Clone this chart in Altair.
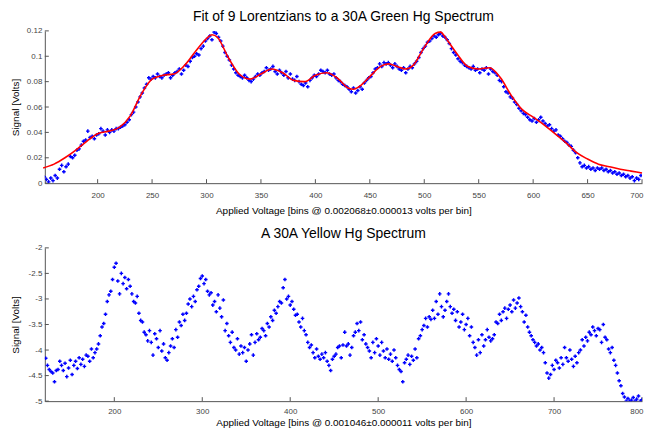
import altair as alt
import pandas as pd

# ---------------- data ----------------
green_first_bin = 151
green_signal = [
    0.005, 0.003, 0.001, 0.004, 0.002, 0.006, 0.004, 0.011, 0.014, 0.009,
    0.013, 0.015, 0.021, 0.020, 0.022, 0.026, 0.027, 0.030, 0.033, 0.034,
    0.041, 0.036, 0.037, 0.035, 0.038, 0.039, 0.043, 0.041, 0.038, 0.042,
    0.040, 0.042, 0.041, 0.043, 0.043, 0.044, 0.045, 0.046, 0.048, 0.050,
    0.054, 0.056, 0.060, 0.064, 0.068, 0.071, 0.075, 0.078, 0.083, 0.082,
    0.084, 0.083, 0.086, 0.084, 0.083, 0.085, 0.086, 0.087, 0.083, 0.085,
    0.087, 0.088, 0.090, 0.086, 0.089, 0.093, 0.092, 0.096, 0.099, 0.100,
    0.102, 0.101, 0.106, 0.108, 0.112, 0.114, 0.116, 0.113, 0.119, 0.118,
    0.115, 0.112, 0.108, 0.103, 0.100, 0.097, 0.093, 0.090, 0.087, 0.085,
    0.084, 0.083, 0.085, 0.083, 0.081, 0.080, 0.082, 0.084, 0.086, 0.085,
    0.087, 0.088, 0.091, 0.089, 0.090, 0.092, 0.088, 0.086, 0.089, 0.087,
    0.085, 0.088, 0.083, 0.086, 0.082, 0.081, 0.084, 0.080, 0.078, 0.077,
    0.079, 0.076, 0.081, 0.083, 0.085, 0.084, 0.086, 0.089, 0.088, 0.087,
    0.089, 0.086, 0.085, 0.086, 0.083, 0.081, 0.080, 0.078, 0.077, 0.076,
    0.074, 0.072, 0.075, 0.071, 0.073, 0.076, 0.074, 0.079, 0.081, 0.083,
    0.084, 0.087, 0.090, 0.091, 0.094, 0.092, 0.095, 0.094, 0.095, 0.093,
    0.091, 0.094, 0.092, 0.090, 0.089, 0.091, 0.087, 0.090, 0.092, 0.091,
    0.094, 0.096, 0.099, 0.103, 0.106, 0.108, 0.111, 0.112, 0.114, 0.116,
    0.115, 0.117, 0.118, 0.116, 0.115, 0.113, 0.110, 0.106, 0.103, 0.101,
    0.098, 0.096, 0.095, 0.093, 0.092, 0.091, 0.090, 0.092, 0.089, 0.090,
    0.087, 0.090, 0.089, 0.091, 0.086, 0.090, 0.088, 0.087, 0.085, 0.081,
    0.080, 0.076, 0.072, 0.071, 0.068, 0.067, 0.064, 0.062, 0.059, 0.057,
    0.055, 0.054, 0.052, 0.050, 0.049, 0.051, 0.048, 0.050, 0.052, 0.049,
    0.047, 0.045, 0.046, 0.043, 0.041, 0.042, 0.038, 0.037, 0.035, 0.033,
    0.032, 0.030, 0.029, 0.026, 0.024, 0.020, 0.016, 0.013, 0.014, 0.012,
    0.013, 0.011, 0.012, 0.010, 0.012, 0.011, 0.012, 0.010, 0.011, 0.009,
    0.010, 0.008, 0.009, 0.007, 0.008, 0.006, 0.007, 0.005, 0.006, 0.004,
    0.005, 0.002, 0.004, 0.003, 0.006,
]

fit_bins = [150, 160, 170, 180, 190, 200, 210, 220, 230, 240, 250, 260, 270,
            280, 290, 300, 305, 310, 320, 330, 340, 350, 360, 370, 380, 390,
            400, 410, 420, 430, 435, 440, 450, 460, 467, 475, 483, 490, 500,
            510, 515, 520, 530, 540, 550, 560, 570, 580, 590, 600, 610, 620,
            630, 640, 650, 660, 670, 680, 690, 700]
fit_signal = [0.012, 0.015, 0.020, 0.026, 0.033, 0.039, 0.041, 0.044, 0.053,
              0.070, 0.082, 0.085, 0.086, 0.093, 0.104, 0.114, 0.117, 0.115,
              0.099, 0.086, 0.082, 0.086, 0.090, 0.087, 0.081, 0.080, 0.085,
              0.087, 0.083, 0.075, 0.074, 0.076, 0.084, 0.092, 0.094, 0.092,
              0.090, 0.093, 0.107, 0.118, 0.119, 0.114, 0.102, 0.092, 0.090,
              0.091, 0.083, 0.069, 0.058, 0.052, 0.046, 0.039, 0.032, 0.024,
              0.019, 0.015, 0.013, 0.011, 0.0095, 0.008]

yellow_first_bin = 122
yellow_signal = [
    -4.16, -4.30, -4.38, -4.42, -4.45, -4.62, -4.40, -4.38, -4.22, -4.30,
    -4.40, -4.26, -4.52, -4.35, -4.20, -4.48, -4.30, -4.22, -4.36, -4.15,
    -4.28, -4.18, -4.32, -4.10, -4.12, -4.22, -3.98, -4.15, -4.05, -3.98,
    -3.88, -3.72, -3.55, -3.48, -3.30, -3.05, -2.92, -2.85, -2.62, -2.38,
    -2.30, -2.65, -2.90, -2.50, -2.70, -2.58, -2.80, -2.62, -2.75, -2.90,
    -3.05, -3.08, -2.95, -3.28, -3.42, -3.45, -3.65, -3.70, -3.82, -3.62,
    -3.85, -4.10, -3.68, -3.78, -3.95, -3.62, -4.02, -3.88, -4.15, -4.20,
    -4.05, -3.92, -3.78, -3.95, -3.60, -3.75, -3.45, -3.52, -3.30, -3.42,
    -3.28, -3.10, -3.00, -3.15, -2.95, -3.05, -2.82, -2.75, -2.60, -2.55,
    -2.70, -2.62, -2.85, -2.92, -2.88, -3.12, -3.05, -3.25, -2.92, -3.18,
    -3.35, -3.02, -3.62, -3.48, -3.72, -3.85, -3.65, -3.95, -4.00, -3.78,
    -4.08, -3.92, -4.05, -3.95, -4.22, -4.00, -3.88, -3.70, -4.10, -3.85,
    -3.68, -3.80, -3.75, -3.58, -3.62, -3.72, -3.48, -3.55, -3.35, -3.42,
    -3.22, -3.28, -3.15, -3.05, -3.08, -2.78, -2.62, -3.00, -2.95, -3.12,
    -3.05, -3.20, -3.32, -3.30, -3.45, -3.55, -3.38, -3.62, -3.70, -3.85,
    -3.95, -3.90, -4.05, -4.15, -3.98, -4.12, -4.18, -4.08, -4.15, -4.05,
    -4.22, -4.30, -4.40, -4.18, -4.12, -4.08, -3.95, -3.92, -4.15, -3.90,
    -3.65, -3.92, -3.88, -4.10, -3.95, -3.72, -3.65, -3.48, -3.62, -3.45,
    -3.80, -3.70, -3.88, -3.95, -4.02, -4.15, -3.85, -4.05, -3.78, -3.92,
    -4.10, -3.85, -4.02, -4.15, -3.98, -4.18, -4.08, -4.22, -4.00, -4.15,
    -4.30, -4.38, -4.42, -4.62, -4.25, -4.18, -4.10, -4.28, -4.12, -4.20,
    -3.98, -4.15, -3.78, -3.72, -3.60, -3.52, -3.38, -3.55, -3.35, -3.40,
    -3.22, -3.38, -3.05, -3.30, -2.90, -3.15, -3.35, -3.22, -3.05, -2.90,
    -3.15, -3.28, -3.20, -3.42, -3.25, -3.55, -3.45, -3.30, -3.60, -3.50,
    -3.38, -3.72, -3.55, -3.85, -3.95, -4.10, -3.80, -4.05, -3.70, -3.92,
    -3.80, -3.60, -3.75, -3.82, -3.78, -3.70, -3.45, -3.48, -3.30, -3.42,
    -3.25, -3.18, -3.38, -3.20, -3.12, -3.25, -3.02, -3.18, -3.08, -2.98,
    -3.15, -3.25, -3.45, -3.32, -3.55, -3.65, -3.72, -3.80, -3.85, -3.92,
    -3.88, -4.00, -3.95, -4.05, -4.25, -4.45, -4.55, -4.48, -4.30, -4.38,
    -4.20, -4.25, -4.35, -4.15, -4.28, -3.95, -4.15, -4.22, -4.00, -4.18,
    -4.32, -4.12, -4.25, -4.05, -4.00, -3.80, -3.92, -3.75, -3.82, -3.65,
    -3.70, -3.55, -3.62, -3.72, -3.58, -3.60, -3.85, -3.50, -3.75, -3.80,
    -3.98, -4.05, -3.95, -4.20, -4.30, -4.45, -4.60, -4.70, -4.85, -4.92,
    -5.00, -4.95, -5.00, -4.98, -4.93, -5.00, -4.96, -4.90, -5.00, -4.97,
]

green_xticks = [200, 250, 300, 350, 400, 450, 500, 550, 600, 650, 700]
green_yticks = [0, 0.02, 0.04, 0.06, 0.08, 0.1, 0.12]
yellow_xticks = [200, 300, 400, 500, 600, 700, 800]
yellow_yticks = [-5, -4.5, -4, -3.5, -3, -2.5, -2]

green_df = pd.DataFrame({
    "bin": list(range(green_first_bin, green_first_bin + 2 * len(green_signal), 2)),
    "signal": green_signal,
})
fit_df = pd.DataFrame({"bin": fit_bins, "signal": fit_signal})
yellow_df = pd.DataFrame({
    "bin": list(range(yellow_first_bin, yellow_first_bin + 2 * len(yellow_signal), 2)),
    "signal": yellow_signal,
})

W = 600
H_TOP = 153
H_BOT = 154
BLUE = "#0000ff"
RED = "#ff0000"
AXC = "#555555"
FONT = "Liberation Sans"
LABEL_EXPR = "datum.value < 0 ? '-' + format(-datum.value, '~g') : format(datum.value, '~g')"


def panel(df, fit, xdom, ydom, xticks, yticks, xtitle, title, height, lpad, tpad):
    xs = alt.Scale(domain=xdom, nice=False, zero=False)
    ys = alt.Scale(domain=ydom, nice=False, zero=False)
    ax_x = alt.Axis(values=xticks, format="d", title=xtitle, labelFlush=True,
                    labelFlushOffset=1, labelPadding=lpad, titlePadding=tpad)
    ax_y = alt.Axis(values=yticks, labelExpr=LABEL_EXPR, title="Signal [Volts]",
                    minExtent=20, maxExtent=20)
    X = lambda: alt.X("bin:Q", scale=xs, axis=ax_x)
    Y = lambda: alt.Y("signal:Q", scale=ys, axis=ax_y)

    layers = []
    layers.append(
        alt.Chart(pd.DataFrame({"bin": xticks}))
        .mark_rule(color=AXC, strokeWidth=1)
        .encode(x=X(), y=alt.value(height), y2=alt.value(height - 4))
    )
    layers.append(
        alt.Chart(pd.DataFrame({"signal": yticks}))
        .mark_rule(color=AXC, strokeWidth=1)
        .encode(y=Y(), x=alt.value(0), x2=alt.value(4))
    )
    layers.append(
        alt.Chart(df)
        .mark_point(shape="cross", filled=True, size=13, color=BLUE, opacity=1, clip=True)
        .encode(x=X(), y=Y())
    )
    if fit is not None:
        layers.append(
            alt.Chart(fit)
            .mark_line(color=RED, strokeWidth=1.6, interpolate="monotone")
            .encode(x=X(), y=Y())
        )
    return alt.layer(*layers).properties(
        width=W,
        height=height,
        title=alt.TitleParams(title, fontSize=14, font=FONT, fontWeight="normal",
                              color="#000000", offset=3),
    )


top = panel(green_df, fit_df, [151.5, 700], [0, 0.12], green_xticks, green_yticks,
            "Applied Voltage [bins @ 0.002068\u00b10.000013 volts per bin]",
            "Fit of 9 Lorentzians to a 30A Green Hg Spectrum", H_TOP, 8, 6)
bottom = panel(yellow_df, None, [121, 800], [-5, -2], yellow_xticks, yellow_yticks,
               "Applied Voltage [bins @ 0.001046\u00b10.000011 volts per bin]",
               "A 30A Yellow Hg Spectrum", H_BOT, 6, 2)

chart = (
    alt.vconcat(top, bottom, spacing=12)
    .properties(padding={"left": 3, "top": 1, "right": 0, "bottom": 0})
    .configure_view(stroke=None)
    .configure_axis(
        grid=False,
        ticks=False,
        domainColor=AXC,
        domainWidth=1,
        labelColor="#444444",
        labelFont=FONT,
        labelFontSize=8,
        titleFont=FONT,
        titleFontSize=10,
        titleFontWeight="normal",
        titleColor="#000000",
    )
    .configure_axisY(labelPadding=3, titlePadding=4)
)

chart.save("out.html", embed_options={"renderer": "svg", "actions": False})
